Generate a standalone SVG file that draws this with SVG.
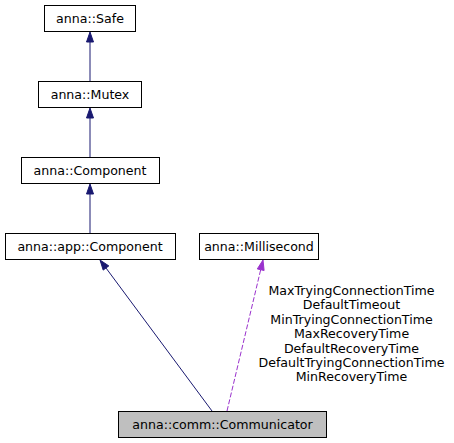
<svg xmlns="http://www.w3.org/2000/svg" width="454" height="443" viewBox="0 0 454 443">
<style>
.box{fill:#ffffff;stroke:#000000;stroke-width:1}
.cur{fill:#bfbfbf;stroke:#000000;stroke-width:1}
text{font-family:"DejaVu Sans","Liberation Sans",sans-serif;font-size:12.6px;fill:#000000}
.c{text-anchor:middle}
.inh{stroke:#191970;stroke-width:1;fill:none}
.inhh{fill:#191970;stroke:#191970}
.use{stroke:#9a32cd;stroke-width:1;fill:none;stroke-dasharray:5,2}
.useh{fill:#9a32cd;stroke:#9a32cd}
</style>
<rect width="454" height="443" fill="#ffffff"/>
<g id="connectors">
<line class="inh" x1="90" y1="81" x2="90" y2="41"/>
<polygon class="inhh" points="86.5,42 90,32 93.5,42"/>
<line class="inh" x1="90" y1="157" x2="90" y2="117"/>
<polygon class="inhh" points="86.5,118 90,108 93.5,118"/>
<line class="inh" x1="90" y1="233" x2="90" y2="193"/>
<polygon class="inhh" points="86.5,194 90,184 93.5,194"/>
<line class="inh" x1="212" y1="411" x2="106" y2="268"/>
<polygon class="inhh" points="108.8,265.9 100,260 103.2,270.1"/>
<line class="use" x1="227" y1="411" x2="260.7" y2="269.7"/>
<polygon class="useh" points="264.1,270.5 263,260 257.3,268.9"/>
<g class="c">
<text x="351.5" y="295">MaxTryingConnectionTime</text>
<text x="351.5" y="309.4">DefaultTimeout</text>
<text x="351.5" y="323.8">MinTryingConnectionTime</text>
<text x="351.5" y="338.2">MaxRecoveryTime</text>
<text x="351.5" y="352.6">DefaultRecoveryTime</text>
<text x="351.5" y="367">DefaultTryingConnectionTime</text>
<text x="351.5" y="381.4">MinRecoveryTime</text>
</g>
</g>
<g id="node-safe"><rect class="box" x="44.5" y="5.5" width="91" height="26"/><text class="c" x="90" y="22.5">anna::Safe</text></g>
<g id="node-mutex"><rect class="box" x="38.5" y="81.5" width="103" height="26"/><text class="c" x="90" y="98.5">anna::Mutex</text></g>
<g id="node-component"><rect class="box" x="21.5" y="157.5" width="138" height="26"/><text class="c" x="90" y="174.5">anna::Component</text></g>
<g id="node-app-component"><rect class="box" x="5.5" y="233.5" width="170" height="26"/><text class="c" x="90" y="250.5">anna::app::Component</text></g>
<g id="node-millisecond"><rect class="box" x="199.5" y="233.5" width="119" height="26"/><text class="c" x="259" y="250.5">anna::Millisecond</text></g>
<g id="node-communicator"><rect class="cur" x="118.5" y="411.5" width="208" height="26"/><text class="c" x="222.5" y="428.5">anna::comm::Communicator</text></g>
</svg>
